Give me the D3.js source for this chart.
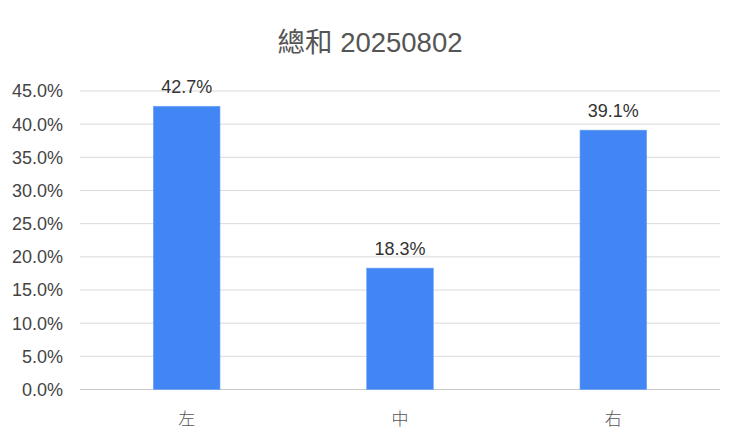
<!DOCTYPE html>
<html>
<head>
<meta charset="utf-8">
<script src="https://cdn.jsdelivr.net/npm/d3@7"></script>
<style>
  body { margin: 0; background: #fff; }
  text { font-family: "Liberation Sans", Arial, "Noto Sans CJK TC", sans-serif; }
  .cjk { font-family: "Noto Sans CJK TC", "Noto Sans CJK SC", sans-serif; }
</style>
</head>
<body>
<script>
// data
const categories = ['左', '中', '右'];
const shares = [42.7, 18.3, 39.1];
const yTicks = [0, 5, 10, 15, 20, 25, 30, 35, 40, 45];
const chartTitle = '總和 20250802';

const width = 740;
const height = 443;
const margin = { top: 91, right: 20, bottom: 53.5, left: 80 };

const svg = d3.select('body')
  .append('svg')
  .attr('width', width)
  .attr('height', height);

const x = d3.scaleBand()
  .domain(categories)
  .range([margin.left, width - margin.right])
  .paddingInner(0.6875)
  .paddingOuter(0.34375);

const y = d3.scaleLinear()
  .domain([0, 45])
  .range([height - margin.bottom, margin.top]);

// gridlines
svg.append('g')
  .selectAll('line')
  .data(yTicks)
  .join('line')
  .attr('x1', margin.left)
  .attr('x2', width - margin.right)
  .attr('y1', (d) => y(d))
  .attr('y2', (d) => y(d))
  .attr('stroke', (d) => (d === 0 ? '#c8c8c8' : '#dadada'))
  .attr('stroke-width', 1);

// y tick labels
svg.append('g')
  .selectAll('text')
  .data(yTicks)
  .join('text')
  .attr('x', 63)
  .attr('y', (d) => y(d))
  .attr('dy', '0.36em')
  .attr('text-anchor', 'end')
  .attr('font-size', 18)
  .attr('fill', '#444')
  .text((d) => `${d.toFixed(1)}%`);

// bars
svg.append('g')
  .selectAll('rect')
  .data(shares)
  .join('rect')
  .attr('x', (d, i) => x(categories[i]))
  .attr('y', (d) => y(d))
  .attr('width', x.bandwidth())
  .attr('height', (d) => y(0) - y(d))
  .attr('fill', '#4285f4')
  .attr('stroke', '#6fa3f7')
  .attr('stroke-width', 0.6);

// value labels
svg.append('g')
  .selectAll('text')
  .data(shares)
  .join('text')
  .attr('x', (d, i) => x(categories[i]) + x.bandwidth() / 2)
  .attr('y', (d) => y(d) - 13)
  .attr('text-anchor', 'middle')
  .attr('font-size', 18)
  .attr('fill', '#333')
  .text((d) => `${d.toFixed(1)}%`);

// category labels
svg.append('g')
  .selectAll('text')
  .data(categories)
  .join('text')
  .attr('class', 'cjk')
  .attr('x', (d) => x(d) + x.bandwidth() / 2)
  .attr('y', 425)
  .attr('text-anchor', 'middle')
  .attr('font-size', 17)
  .attr('font-weight', 300)
  .attr('fill', '#555')
  .text((d) => d);

// title
svg.append('text')
  .attr('x', 370)
  .attr('y', 52)
  .attr('text-anchor', 'middle')
  .attr('font-size', 27.5)
  .attr('fill', '#555')
  .text(chartTitle);
</script>
</body>
</html>
